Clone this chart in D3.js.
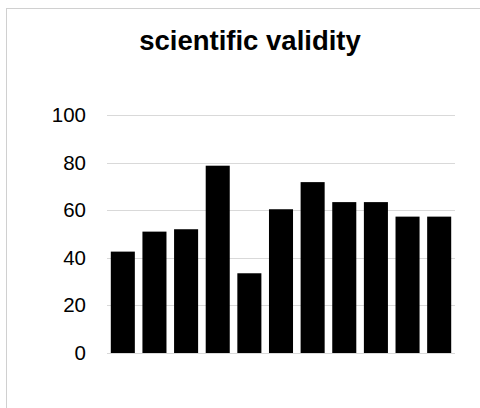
<!DOCTYPE html>
<html><head><meta charset="utf-8">
<script src="https://cdn.jsdelivr.net/npm/d3@7"></script>
<style>body{margin:0;background:#fff}svg{display:block}</style>
</head><body>
<svg id="c" width="480" height="408"></svg>
<script>
const categories = ["1","2","3","4","5","6","7","8","9","10","11"];
const values = [42.6, 51.0, 52.0, 78.7, 33.5, 60.4, 71.8, 63.4, 63.4, 57.3, 57.3];
const yTicks = [0, 20, 40, 60, 80, 100];
const title = "scientific validity";

(function(){
const svg = d3.select("#c");
svg.append("rect").attr("x",6.5).attr("y",8.5).attr("width",480).attr("height",420)
  .attr("fill","none").attr("stroke","#d0d0d0").attr("stroke-width",1);

const pL = 107, pR = 455, pT = 115, pB = 353;
const x = d3.scaleBand().domain(categories).range([pL, pR]).paddingInner(0.24).paddingOuter(0.12);
const y = d3.scaleLinear().domain([0, 100]).range([pB, pT]);

svg.append("text").attr("x",250).attr("y",50).attr("text-anchor","middle")
  .attr("font-family","Liberation Sans, Arial, sans-serif").attr("font-weight","bold")
  .attr("font-size",27.5).attr("fill","#000").text(title);

svg.append("g").selectAll("line").data(yTicks).join("line")
  .attr("x1",pL).attr("x2",pR)
  .attr("y1",d=>Math.round(y(d))+0.5).attr("y2",d=>Math.round(y(d))+0.5)
  .attr("stroke","#d9d9d9").attr("stroke-width",1.2);

const axis = svg.append("g").attr("transform",`translate(${pL},0)`)
  .call(d3.axisLeft(y).tickValues(yTicks).tickSize(0).tickPadding(21));
axis.select(".domain").remove();
axis.selectAll("text").attr("font-family","Liberation Sans, Arial, sans-serif")
  .attr("font-size",20.5).attr("fill","#000");

svg.append("g").selectAll("rect").data(values).join("rect")
  .attr("x",(d,i)=>x(categories[i])).attr("width",x.bandwidth())
  .attr("y",d=>y(d)).attr("height",d=>y(0)-y(d))
  .attr("fill","#000");
})();
</script>
</body></html>
